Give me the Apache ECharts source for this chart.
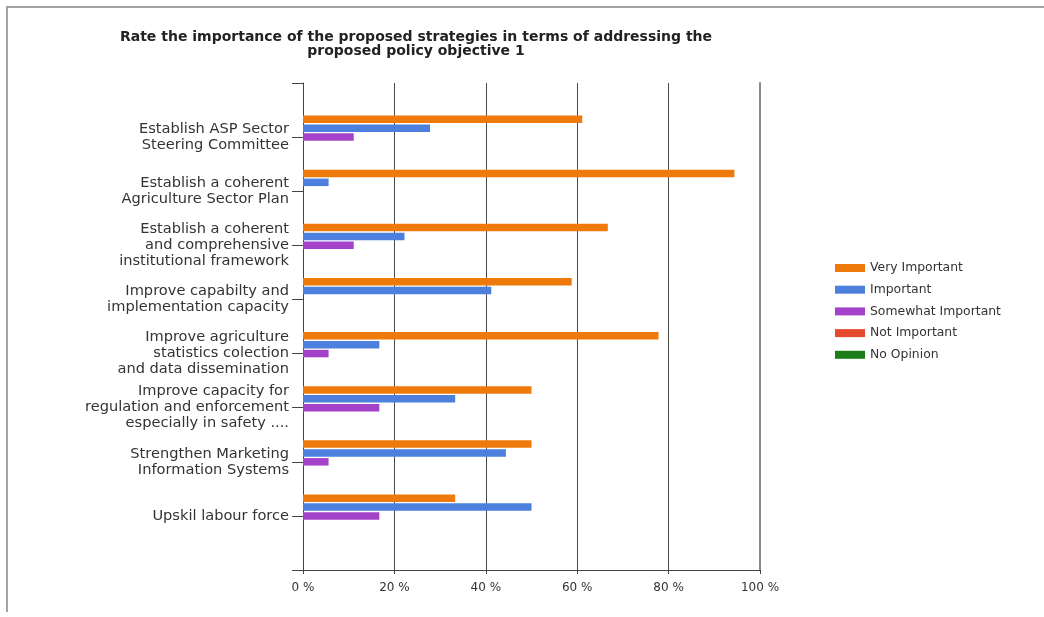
<!DOCTYPE html>
<html>
<head>
<meta charset="utf-8">
<script src="https://cdn.jsdelivr.net/npm/echarts@6/dist/echarts.min.js"></script>
<style>
html,body{margin:0;padding:0;background:#fff;}
#chart{width:1044px;height:617px;}
</style>
</head>
<body>
<div id="chart"></div>
<script>
var categories = [
  "Establish ASP Sector\nSteering Committee",
  "Establish a coherent\nAgriculture Sector Plan",
  "Establish a coherent\nand comprehensive\ninstitutional framework",
  "Improve capabilty and\nimplementation capacity",
  "Improve agriculture\nstatistics colection\nand data dissemination",
  "Improve capacity for\nregulation and enforcement\nespecially in safety ....",
  "Strengthen Marketing\nInformation Systems",
  "Upskil labour force"
];
var seriesNames = ["Very Important", "Important", "Somewhat Important", "Not Important", "No Opinion"];
var veryImportant     = [61.1, 94.4, 66.7, 58.8, 77.8, 50.0, 50.0, 33.3];
var important         = [27.8, 5.6, 22.2, 41.2, 16.7, 33.3, 44.4, 50.0];
var somewhatImportant = [11.1, 0, 11.1, 0, 5.6, 16.7, 5.6, 16.7];
var notImportant      = [0, 0, 0, 0, 0, 0, 0, 0];
var noOpinion         = [0, 0, 0, 0, 0, 0, 0, 0];
var xTicks = [0, 20, 40, 60, 80, 100];
var titleText = "Rate the importance of the proposed strategies in terms of addressing the\nproposed policy objective 1";

var colors = ["#EE7A0B", "#4D80DC", "#A443C9", "#E5492E", "#1B7D1B"];
var values = [veryImportant, important, somewhatImportant, notImportant, noOpinion];

var chart = echarts.init(document.getElementById('chart'), null, {renderer: 'canvas'});

var series = seriesNames.map(function (name, i) {
  return {
    name: name,
    type: 'bar',
    xAxisIndex: 1,
    yAxisIndex: 2,
    data: values[i],
    barWidth: 7.5,
    barGap: '18%',
    itemStyle: {color: colors[i]},
    silent: true
  };
});

var option = {
  animation: false,
  backgroundColor: '#ffffff',
  color: colors,
  title: {
    text: titleText,
    left: 411,
    top: 25,
    textAlign: 'center',
    textStyle: {
      fontFamily: 'DejaVu Sans',
      fontWeight: 'bold',
      fontSize: 14,
      lineHeight: 14,
      color: '#222'
    }
  },
  legend: {
    orient: 'vertical',
    left: 830,
    top: 257,
    itemWidth: 30,
    itemHeight: 8,
    itemGap: 9.7,
    icon: 'rect',
    selectedMode: false,
    data: seriesNames,
    textStyle: {fontFamily: 'DejaVu Sans', fontSize: 12.4, color: '#333'}
  },
  graphic: [
    {type: 'line', shape: {x1: 6, y1: 7, x2: 1044, y2: 7}, style: {stroke: '#a3a3a3', lineWidth: 2}, silent: true},
    {type: 'line', shape: {x1: 7, y1: 6, x2: 7, y2: 612}, style: {stroke: '#a3a3a3', lineWidth: 2}, silent: true}
  ],
  grid: [
    {left: 303, right: 284, top: 83, bottom: 47, containLabel: false},
    {left: 303, right: 284, top: 110, bottom: 74, containLabel: false}
  ],
  xAxis: [
    {
      type: 'value', gridIndex: 0, min: 0, max: 100, interval: 20,
      axisLine: {show: true, lineStyle: {color: '#444', width: 1}},
      axisTick: {show: true, length: 4, lineStyle: {color: '#444'}},
      splitLine: {show: true, lineStyle: {color: '#4a4a4a', width: 1}},
      axisLabel: {
        margin: 12,
        fontFamily: 'DejaVu Sans', fontSize: 12, color: '#333',
        customValues: xTicks,
        formatter: function (v) { return v + ' %'; }
      }
    },
    {
      type: 'value', gridIndex: 1, min: 0, max: 100, show: false
    }
  ],
  yAxis: [
    {
      type: 'value', gridIndex: 0, min: 0, max: 1, interval: 1,
      axisLine: {show: true, lineStyle: {color: '#444', width: 1}},
      axisTick: {show: true, length: 11, lineStyle: {color: '#444'}},
      axisLabel: {show: false},
      splitLine: {show: false}
    },
    {
      type: 'value', gridIndex: 0, min: 0, max: 1, interval: 1, position: 'right',
      axisLine: {show: true, lineStyle: {color: '#8a8a8a', width: 2}},
      axisTick: {show: false},
      axisLabel: {show: false},
      splitLine: {show: false}
    },
    {
      type: 'category', gridIndex: 1, inverse: true,
      data: categories,
      boundaryGap: true,
      axisLine: {show: false},
      axisTick: {show: true, alignWithLabel: true, length: 11, lineStyle: {color: '#444'}},
      axisLabel: {
        margin: 14,
        fontFamily: 'DejaVu Sans', fontSize: 14.6, color: '#333',
        lineHeight: 16, align: 'right'
      },
      splitLine: {show: false}
    }
  ],
  series: series
};
chart.setOption(option);
</script>
</body>
</html>
